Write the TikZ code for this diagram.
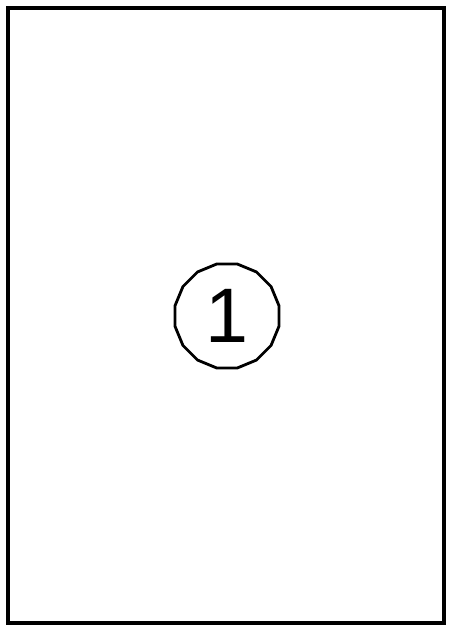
\documentclass[tikz,border=0pt]{standalone}
\usepackage{fontspec}
\setmainfont{Liberation Sans}
\usetikzlibrary{shapes.geometric}

\begin{document}
\begin{tikzpicture}[x=0.02cm,y=-0.02cm,
	badge/.style={draw,regular polygon,regular polygon sides=16,minimum size=2.12cm,inner sep=0pt,line width=1.6pt,font=\fontsize{44}{50}\selectfont}]
			% Feuille
				\useasboundingbox (0,0) rectangle (450,640);
\draw [line width=2pt] (8,8) rectangle (444,623);
\node [badge] (num) at (227,316) {1};
			\end{tikzpicture}
\end{document}
